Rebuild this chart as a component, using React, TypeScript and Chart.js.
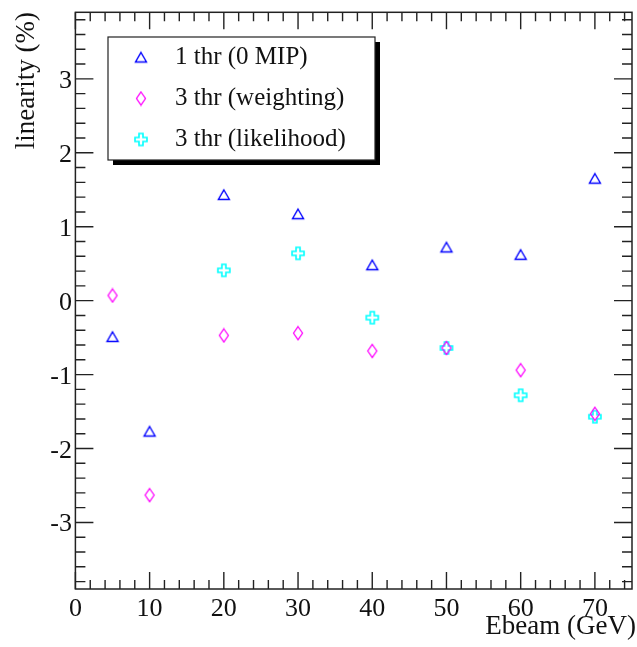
import React, { useEffect, useRef } from "react";
import { Chart, registerables } from "chart.js";

Chart.register(...registerables);

const energies = [5, 10, 20, 30, 40, 50, 60, 70];
const oneThr = [-0.49, -1.77, 1.43, 1.17, 0.48, 0.72, 0.62, 1.65];
const weighting = [0.07, -2.63, -0.47, -0.44, -0.68, -0.64, -0.94, -1.53];
const likelihoodEnergies = [20, 30, 40, 50, 60, 70];
const likelihood = [0.41, 0.64, -0.23, -0.64, -1.28, -1.57];

const seriesLabels = ["1 thr (0 MIP)", "3 thr (weighting)", "3 thr (likelihood)"];
const xMajorTicks = [0, 10, 20, 30, 40, 50, 60, 70];
const yMajorTicks = [-3, -2, -1, 0, 1, 2, 3];
const xTitle = "Ebeam (GeV)";
const yTitle = "linearity (%)";

const FONT = '"Liberation Serif", "DejaVu Serif", serif';

function makeMarker(kind: string): HTMLCanvasElement {
  const c = document.createElement("canvas");
  c.width = 16;
  c.height = 16;
  const g = c.getContext("2d")!;
  const cx = 8, cy = 8;
  g.beginPath();
  if (kind === "triangle") {
    g.moveTo(cx, cy - 5);
    g.lineTo(cx + 5.5, cy + 4.5);
    g.lineTo(cx - 5.5, cy + 4.5);
    g.closePath();
    g.strokeStyle = "#0000ff";
    g.lineWidth = 1.4;
  } else if (kind === "diamond") {
    g.moveTo(cx, cy - 6.5);
    g.lineTo(cx + 4.5, cy);
    g.lineTo(cx, cy + 6.5);
    g.lineTo(cx - 4.5, cy);
    g.closePath();
    g.strokeStyle = "#ff00ff";
    g.lineWidth = 1.3;
  } else {
    const a = 2, b = 6;
    const pts = [
      [-a, -b], [a, -b], [a, -a], [b, -a], [b, a], [a, a],
      [a, b], [-a, b], [-a, a], [-b, a], [-b, -a], [-a, -a],
    ];
    pts.forEach((p, i) => (i === 0 ? g.moveTo(cx + p[0], cy + p[1]) : g.lineTo(cx + p[0], cy + p[1])));
    g.closePath();
    g.strokeStyle = "#00ffff";
    g.lineWidth = 1.6;
  }
  g.stroke();
  return c;
}

export default function App() {
  const ref = useRef<HTMLCanvasElement | null>(null);

  useEffect(() => {
    document.body.style.margin = "0";
    const tri = makeMarker("triangle");
    const dia = makeMarker("diamond");
    const cro = makeMarker("cross");
    const markers = [tri, dia, cro];

    const frame = {
      id: "rootFrame",
      afterDraw(chart: any) {
        const { ctx, chartArea: ca, scales } = chart;
        const xs = scales.x, ys = scales.y;
        ctx.save();
        ctx.strokeStyle = "#222";
        ctx.lineWidth = 1.5;
        ctx.strokeRect(ca.left, ca.top, ca.right - ca.left, ca.bottom - ca.top);
        ctx.lineWidth = 1.4;
        // x ticks (bottom & top)
        for (let v = 0; v <= 75.001; v += 2) {
          const px = xs.getPixelForValue(v);
          const major = v % 10 === 0;
          const len = major ? 17 : 9;
          ctx.beginPath();
          ctx.moveTo(px, ca.bottom);
          ctx.lineTo(px, ca.bottom - len);
          ctx.moveTo(px, ca.top);
          ctx.lineTo(px, ca.top + len);
          ctx.stroke();
        }
        // y ticks (left & right)
        for (let i = -19; i <= 19; i++) {
          const v = i * 0.2;
          const py = ys.getPixelForValue(v);
          const major = i % 5 === 0;
          const len = major ? 18 : 10;
          ctx.beginPath();
          ctx.moveTo(ca.left, py);
          ctx.lineTo(ca.left + len, py);
          ctx.moveTo(ca.right, py);
          ctx.lineTo(ca.right - len, py);
          ctx.stroke();
        }
        // tick labels
        ctx.fillStyle = "#111";
        ctx.font = `26px ${FONT}`;
        ctx.textAlign = "center";
        ctx.textBaseline = "alphabetic";
        xMajorTicks.forEach((v) => {
          ctx.fillText(String(v), xs.getPixelForValue(v), 616);
        });
        ctx.textAlign = "right";
        yMajorTicks.forEach((v) => {
          ctx.fillText(String(v), 72, ys.getPixelForValue(v) + 9);
        });
        // axis titles
        ctx.font = `27px ${FONT}`;
        ctx.textAlign = "right";
        ctx.fillText(xTitle, 636, 634);
        ctx.save();
        ctx.translate(34, 12);
        ctx.rotate(-Math.PI / 2);
        ctx.textAlign = "right";
        ctx.fillText(yTitle, 0, 0);
        ctx.restore();
        // legend
        const L = 108, T = 37, R = 375, B = 160;
        ctx.fillStyle = "#000";
        ctx.fillRect(R, T + 5, 5, B - T);
        ctx.fillRect(L + 5, B, R - L, 5);
        ctx.fillStyle = "#fff";
        ctx.fillRect(L, T, R - L, B - T);
        ctx.strokeStyle = "#222";
        ctx.lineWidth = 1.2;
        ctx.strokeRect(L, T, R - L, B - T);
        const baselines = [64, 105, 146];
        ctx.font = `25px ${FONT}`;
        ctx.textAlign = "left";
        ctx.fillStyle = "#111";
        seriesLabels.forEach((s, i) => {
          const m = markers[i];
          ctx.drawImage(m, 141 - m.width / 2, baselines[i] - 6.5 - m.height / 2);
          ctx.fillText(s, 175, baselines[i]);
        });
        ctx.restore();
      },
    };

    const chart = new Chart(ref.current!, {
      type: "scatter",
      data: {
        datasets: [
          {
            label: seriesLabels[0],
            data: energies.map((x, i) => ({ x, y: oneThr[i] })),
            pointStyle: tri as any,
          },
          {
            label: seriesLabels[1],
            data: energies.map((x, i) => ({ x, y: weighting[i] })),
            pointStyle: dia as any,
          },
          {
            label: seriesLabels[2],
            data: likelihoodEnergies.map((x, i) => ({ x, y: likelihood[i] })),
            pointStyle: cro as any,
          },
        ],
      },
      options: {
        animation: false,
        responsive: false,
        layout: { padding: { left: 75.4, right: 1.7, top: 12.3, bottom: 58 } },
        plugins: { legend: { display: false }, tooltip: { enabled: false } },
        scales: {
          x: { type: "linear", min: 0, max: 75, display: false },
          y: { type: "linear", min: -3.9, max: 3.9, display: false },
        },
      },
      plugins: [frame],
    });
    return () => chart.destroy();
  }, []);

  return <canvas ref={ref} width={637} height={647} style={{ display: "block" }} />;
}
